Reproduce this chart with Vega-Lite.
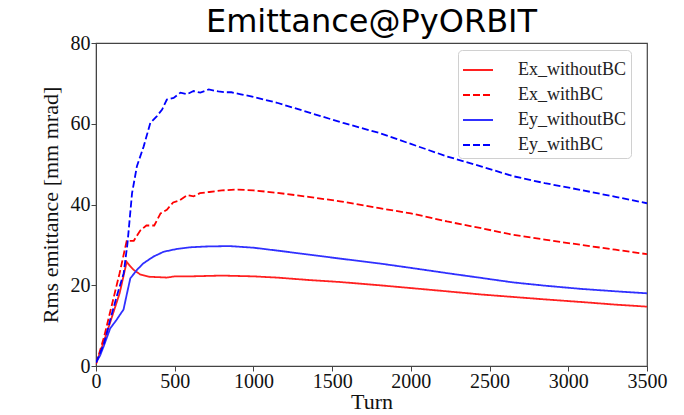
{
  "$schema": "https://vega.github.io/schema/vega-lite/v6.json",
  "autosize": {"type": "none"},
  "width": 551,
  "height": 323,
  "padding": {"left": 96, "top": 43, "right": 37, "bottom": 49},
  "background": "white",
  "title": {"text": "Emittance@PyORBIT", "font": "DejaVu Sans", "fontSize": 32, "fontWeight": "normal", "color": "#000000", "anchor": "middle", "frame": "group", "baseline": "alphabetic", "offset": 0, "dy": 31},
  "data": {"values": [
    {"series":"Ex_withoutBC","turn":0,"value":0.5},{"series":"Ex_withoutBC","turn":50,"value":6},{"series":"Ex_withoutBC","turn":100,"value":12},{"series":"Ex_withoutBC","turn":150,"value":18},{"series":"Ex_withoutBC","turn":195,"value":25.8},{"series":"Ex_withoutBC","turn":215,"value":24.8},{"series":"Ex_withoutBC","turn":240,"value":23.8},{"series":"Ex_withoutBC","turn":280,"value":22.7},{"series":"Ex_withoutBC","turn":340,"value":22.1},{"series":"Ex_withoutBC","turn":400,"value":22.0},{"series":"Ex_withoutBC","turn":450,"value":21.9},{"series":"Ex_withoutBC","turn":500,"value":22.2},{"series":"Ex_withoutBC","turn":600,"value":22.2},{"series":"Ex_withoutBC","turn":700,"value":22.3},{"series":"Ex_withoutBC","turn":800,"value":22.4},{"series":"Ex_withoutBC","turn":900,"value":22.3},{"series":"Ex_withoutBC","turn":1000,"value":22.2},{"series":"Ex_withoutBC","turn":1150,"value":21.9},{"series":"Ex_withoutBC","turn":1350,"value":21.3},{"series":"Ex_withoutBC","turn":1550,"value":20.8},{"series":"Ex_withoutBC","turn":1800,"value":20.0},{"series":"Ex_withoutBC","turn":2000,"value":19.3},{"series":"Ex_withoutBC","turn":2200,"value":18.6},{"series":"Ex_withoutBC","turn":2450,"value":17.7},{"series":"Ex_withoutBC","turn":2650,"value":17.1},{"series":"Ex_withoutBC","turn":2850,"value":16.5},{"series":"Ex_withoutBC","turn":3100,"value":15.8},{"series":"Ex_withoutBC","turn":3300,"value":15.2},{"series":"Ex_withoutBC","turn":3500,"value":14.7},
    {"series":"Ex_withBC","turn":0,"value":0.5},{"series":"Ex_withBC","turn":50,"value":7},{"series":"Ex_withBC","turn":100,"value":15},{"series":"Ex_withBC","turn":150,"value":23},{"series":"Ex_withBC","turn":195,"value":31},{"series":"Ex_withBC","turn":240,"value":31},{"series":"Ex_withBC","turn":280,"value":33.5},{"series":"Ex_withBC","turn":320,"value":34.8},{"series":"Ex_withBC","turn":370,"value":34.8},{"series":"Ex_withBC","turn":410,"value":37.8},{"series":"Ex_withBC","turn":450,"value":38.7},{"series":"Ex_withBC","turn":490,"value":40.5},{"series":"Ex_withBC","turn":530,"value":41},{"series":"Ex_withBC","turn":580,"value":42.3},{"series":"Ex_withBC","turn":620,"value":42},{"series":"Ex_withBC","turn":660,"value":42.8},{"series":"Ex_withBC","turn":720,"value":43.1},{"series":"Ex_withBC","turn":800,"value":43.5},{"series":"Ex_withBC","turn":900,"value":43.7},{"series":"Ex_withBC","turn":1000,"value":43.5},{"series":"Ex_withBC","turn":1150,"value":42.9},{"series":"Ex_withBC","turn":1350,"value":41.9},{"series":"Ex_withBC","turn":1550,"value":40.8},{"series":"Ex_withBC","turn":1800,"value":39.1},{"series":"Ex_withBC","turn":2000,"value":37.8},{"series":"Ex_withBC","turn":2230,"value":35.8},{"series":"Ex_withBC","turn":2450,"value":34.1},{"series":"Ex_withBC","turn":2650,"value":32.5},{"series":"Ex_withBC","turn":2850,"value":31.3},{"series":"Ex_withBC","turn":3080,"value":30},{"series":"Ex_withBC","turn":3300,"value":28.8},{"series":"Ex_withBC","turn":3500,"value":27.7},
    {"series":"Ey_withoutBC","turn":0,"value":0.9},{"series":"Ey_withoutBC","turn":25,"value":2.5},{"series":"Ey_withoutBC","turn":50,"value":5},{"series":"Ey_withoutBC","turn":90,"value":9.3},{"series":"Ey_withoutBC","turn":130,"value":11.4},{"series":"Ey_withoutBC","turn":175,"value":14},{"series":"Ey_withoutBC","turn":197,"value":18},{"series":"Ey_withoutBC","turn":218,"value":21.7},{"series":"Ey_withoutBC","turn":260,"value":23.8},{"series":"Ey_withoutBC","turn":300,"value":25.4},{"series":"Ey_withoutBC","turn":365,"value":27.1},{"series":"Ey_withoutBC","turn":430,"value":28.3},{"series":"Ey_withoutBC","turn":515,"value":29},{"series":"Ey_withoutBC","turn":600,"value":29.4},{"series":"Ey_withoutBC","turn":700,"value":29.6},{"series":"Ey_withoutBC","turn":850,"value":29.7},{"series":"Ey_withoutBC","turn":1000,"value":29.3},{"series":"Ey_withoutBC","turn":1150,"value":28.6},{"series":"Ey_withoutBC","turn":1350,"value":27.6},{"series":"Ey_withoutBC","turn":1550,"value":26.6},{"series":"Ey_withoutBC","turn":1800,"value":25.4},{"series":"Ey_withoutBC","turn":2000,"value":24.3},{"series":"Ey_withoutBC","turn":2230,"value":23},{"series":"Ey_withoutBC","turn":2450,"value":21.8},{"series":"Ey_withoutBC","turn":2650,"value":20.7},{"series":"Ey_withoutBC","turn":2850,"value":19.9},{"series":"Ey_withoutBC","turn":3080,"value":19.1},{"series":"Ey_withoutBC","turn":3300,"value":18.5},{"series":"Ey_withoutBC","turn":3500,"value":18},
    {"series":"Ey_withBC","turn":0,"value":0.8},{"series":"Ey_withBC","turn":50,"value":5.5},{"series":"Ey_withBC","turn":90,"value":11.4},{"series":"Ey_withBC","turn":130,"value":17},{"series":"Ey_withBC","turn":176,"value":23},{"series":"Ey_withBC","turn":200,"value":30.4},{"series":"Ey_withBC","turn":229,"value":42.8},{"series":"Ey_withBC","turn":260,"value":49.5},{"series":"Ey_withBC","turn":303,"value":54.4},{"series":"Ey_withBC","turn":345,"value":60.2},{"series":"Ey_withBC","turn":387,"value":61.9},{"series":"Ey_withBC","turn":420,"value":63.5},{"series":"Ey_withBC","turn":450,"value":66},{"series":"Ey_withBC","turn":493,"value":66.4},{"series":"Ey_withBC","turn":536,"value":67.7},{"series":"Ey_withBC","turn":578,"value":67.3},{"series":"Ey_withBC","turn":620,"value":68.1},{"series":"Ey_withBC","turn":663,"value":67.7},{"series":"Ey_withBC","turn":716,"value":68.5},{"series":"Ey_withBC","turn":777,"value":68},{"series":"Ey_withBC","turn":820,"value":67.8},{"series":"Ey_withBC","turn":860,"value":67.8},{"series":"Ey_withBC","turn":920,"value":67.3},{"series":"Ey_withBC","turn":985,"value":66.8},{"series":"Ey_withBC","turn":1150,"value":65.2},{"series":"Ey_withBC","turn":1360,"value":62.7},{"series":"Ey_withBC","turn":1570,"value":60.2},{"series":"Ey_withBC","turn":1800,"value":57.7},{"series":"Ey_withBC","turn":2000,"value":55},{"series":"Ey_withBC","turn":2230,"value":51.9},{"series":"Ey_withBC","turn":2450,"value":49.4},{"series":"Ey_withBC","turn":2650,"value":47},{"series":"Ey_withBC","turn":2850,"value":45.3},{"series":"Ey_withBC","turn":3080,"value":43.6},{"series":"Ey_withBC","turn":3300,"value":41.9},{"series":"Ey_withBC","turn":3500,"value":40.3}
  ]},
  "mark": {"type": "line", "strokeWidth": 1.8, "clip": true},
  "encoding": {
    "x": {"field": "turn", "type": "quantitative", "title": "Turn",
      "scale": {"domain": [0, 3500], "nice": false},
      "axis": {"values": [0,500,1000,1500,2000,2500,3000,3500], "format": "d", "grid": false, "labelFlush": false}},
    "y": {"field": "value", "type": "quantitative", "title": "Rms emittance [mm mrad]",
      "scale": {"domain": [0, 80], "nice": false},
      "axis": {"values": [0,20,40,60,80], "grid": false}},
    "color": {"field": "series", "type": "nominal", "title": null,
      "scale": {"domain": ["Ex_withoutBC","Ex_withBC","Ey_withoutBC","Ey_withBC"], "range": ["#ff2020","#ff0000","#3030ff","#0000ff"]},
      "legend": {"orient": "none", "legendX": 362, "legendY": 7}},
    "strokeDash": {"field": "series", "type": "nominal", "title": null,
      "scale": {"domain": ["Ex_withoutBC","Ex_withBC","Ey_withoutBC","Ey_withBC"], "range": [[1,0],[7,3],[1,0],[7,3]]},
      "legend": {"orient": "none", "legendX": 362, "legendY": 7}},
    "sort": {"field": "turn"}
  },
  "config": {
    "view": {"stroke": "#444444", "strokeWidth": 1.2},
    "axis": {"labelFont": "Liberation Serif", "labelFontSize": 20, "labelColor": "#111111", "titleFont": "Liberation Serif", "titleFontSize": 22, "titleFontWeight": "normal", "titleColor": "#111111", "domainColor": "#444444", "tickColor": "#444444", "tickSize": 5, "labelPadding": 1},
    "axisX": {"titlePadding": 0, "labelPadding": 0},
    "axisY": {"titlePadding": 8},
    "legend": {"labelFont": "Liberation Serif", "labelFontSize": 18, "labelColor": "#222222", "symbolType": "stroke", "symbolSize": 900, "symbolStrokeWidth": 1.8, "fillColor": "white", "strokeColor": "#d0d0d0", "cornerRadius": 4, "padding": 4, "rowPadding": -4, "labelOffset": 24}
  }
}
